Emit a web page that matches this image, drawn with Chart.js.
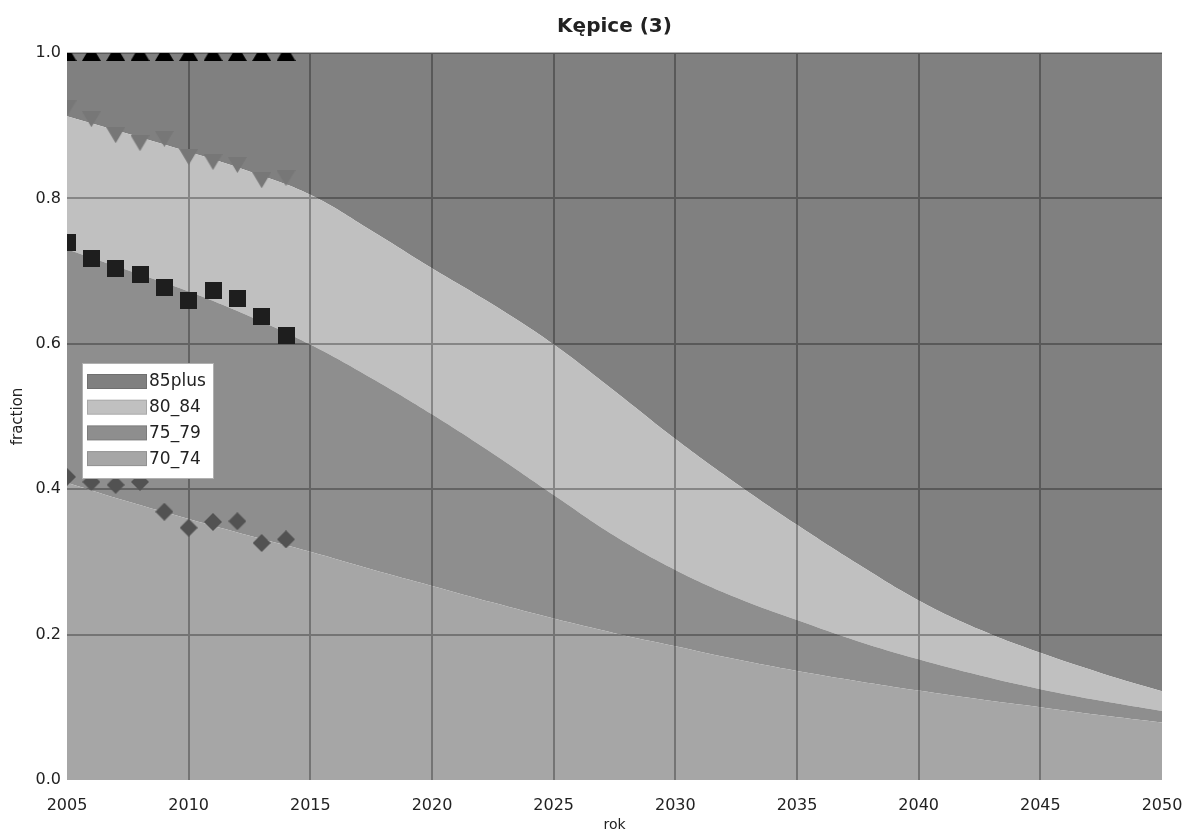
<!DOCTYPE html>
<html><head><meta charset="utf-8">
<script src="https://cdn.jsdelivr.net/npm/chart.js@4/dist/chart.umd.min.js"></script>
<style>html,body{margin:0;padding:0;background:#fff}canvas{display:block}</style>
</head><body>
<canvas id="c" width="1186" height="834"></canvas>
<script>
// ---- data ----
const years = [2005,2007.5,2010,2012.5,2015,2017.5,2020,2022.5,2025,2027.5,2030,2032.5,2035,2037.5,2040,2042.5,2045,2047.5,2050];
const share70_74  = [0.409,0.383,0.359,0.336,0.314,0.290,0.267,0.244,0.222,0.202,0.184,0.166,0.150,0.136,0.123,0.111,0.100,0.089,0.079];
const share75_79  = [0.321,0.318,0.313,0.302,0.285,0.263,0.236,0.205,0.170,0.134,0.105,0.085,0.070,0.055,0.043,0.033,0.025,0.020,0.016];
const share80_84  = [0.183,0.188,0.192,0.199,0.206,0.203,0.201,0.205,0.207,0.199,0.180,0.157,0.131,0.106,0.081,0.063,0.050,0.038,0.027];
const share85plus = [0.087,0.111,0.136,0.163,0.195,0.244,0.296,0.346,0.401,0.465,0.531,0.592,0.649,0.703,0.753,0.793,0.825,0.853,0.878];

const obsYears = [2005,2006,2007,2008,2009,2010,2011,2012,2013,2014];
const obsCum70_74  = [0.417,0.410,0.406,0.410,0.369,0.347,0.355,0.356,0.326,0.331];
const obsCum75_79  = [0.739,0.718,0.704,0.695,0.677,0.660,0.673,0.662,0.638,0.612];
const obsCum80_84  = [0.924,0.909,0.887,0.876,0.882,0.857,0.850,0.846,0.825,0.828];
const obsCum85plus = [1,1,1,1,1,1,1,1,1,1];

const xTickValues = [2005,2010,2015,2020,2025,2030,2035,2040,2045,2050];
const yTickValues = [0,0.2,0.4,0.6,0.8,1.0];

const FONT = 'DejaVu Sans';
const TXT = '#222222';

// ---- marker shapes ----
function marker(kind, color, w, h) {
  const c = document.createElement('canvas');
  c.width = w; c.height = h;
  const g = c.getContext('2d');
  g.fillStyle = color;
  g.beginPath();
  if (kind === 'up') { g.moveTo(w/2,0); g.lineTo(w,h); g.lineTo(0,h); }
  else if (kind === 'down') { g.moveTo(0,0); g.lineTo(w,0); g.lineTo(w/2,h); }
  else if (kind === 'diamond') { g.moveTo(w/2,0); g.lineTo(w,h/2); g.lineTo(w/2,h); g.lineTo(0,h/2); }
  else { g.rect(0,0,w,h); }
  g.closePath(); g.fill();
  return c;
}

const pts = (xs, ys) => xs.map((x,i) => ({x, y: ys[i]}));

function areaDs(label, vals, color, fill) {
  return { label, data: pts(years, vals), isArea: true, stack: 'area', order: 1,
    backgroundColor: color, borderColor: color, borderWidth: 0, pointRadius: 0,
    fill, tension: 0.4 };
}
function markerDs(label, vals, style, stackId) {
  return { label, data: pts(obsYears, vals), isArea: false, stack: stackId, order: 0,
    showLine: false, pointStyle: style, pointRadius: 9, pointHoverRadius: 9,
    backgroundColor: '#000', borderColor: '#000', borderWidth: 0, fill: false, clip: 0 };
}

const datasets = [
  areaDs('70_74', share70_74, '#a6a6a6', 'origin'),
  areaDs('75_79', share75_79, '#8e8e8e', '-1'),
  areaDs('80_84', share80_84, '#c0c0c0', '-1'),
  areaDs('85plus', share85plus, '#808080', '-1'),
  markerDs('obs 70_74', obsCum70_74, marker('diamond', '#525252', 18, 18), 'm1'),
  markerDs('obs 75_79', obsCum75_79, marker('square', '#1e1e1e', 17, 17), 'm2'),
  markerDs('obs 80_84', obsCum80_84, marker('down', '#777777', 19, 16), 'm3'),
  markerDs('obs 85plus', obsCum85plus, marker('up', '#000000', 19, 16), 'm4')
];

const gridOnTop = {
  id: 'gridOnTop',
  afterDatasetDraw(chart, args) {
    if (args.index !== 0) return;
    const {ctx, chartArea: a, scales: {x, y}} = chart;
    ctx.save();
    ctx.strokeStyle = 'rgba(0,0,0,0.3)';
    ctx.lineWidth = 2;
    ctx.beginPath();
    xTickValues.slice(1, -1).forEach(v => {
      const px = Math.round(x.getPixelForValue(v));
      ctx.moveTo(px, a.top); ctx.lineTo(px, a.bottom);
    });
    yTickValues.slice(1).forEach(v => {
      const py = Math.round(y.getPixelForValue(v));
      ctx.moveTo(a.left, py); ctx.lineTo(a.right, py);
    });
    ctx.stroke();
    ctx.restore();
  }
};

const boxLegend = {
  id: 'boxLegend',
  afterDraw(chart) {
    const ctx = chart.ctx;
    const items = chart.data.datasets.filter(d => d.isArea).slice().reverse();
    const bx = 82, by = 363, bw = 132, bh = 116;
    ctx.save();
    ctx.fillStyle = '#ffffff';
    ctx.fillRect(bx, by, bw, bh);
    ctx.strokeStyle = '#b0b0b0';
    ctx.lineWidth = 1;
    ctx.strokeRect(bx + 0.5, by + 0.5, bw - 1, bh - 1);
    ctx.font = '17px "' + FONT + '"';
    ctx.textBaseline = 'middle';
    ctx.textAlign = 'left';
    items.forEach((d, i) => {
      const cy = 381 + i * 25.7;
      ctx.fillStyle = d.backgroundColor;
      ctx.fillRect(87, cy - 7, 60, 15);
      ctx.strokeStyle = 'rgba(0,0,0,0.12)';
      ctx.strokeRect(87.5, cy - 6.5, 59, 14);
      ctx.fillStyle = TXT;
      ctx.fillText(d.label, 149, cy + 1);
    });
    ctx.restore();
  }
};

new Chart(document.getElementById('c'), {
  type: 'line',
  data: { datasets },
  plugins: [gridOnTop, boxLegend],
  options: {
    responsive: false,
    animation: false,
    events: [],
    layout: { padding: { left: 0, right: 24, top: 0, bottom: 0 } },
    plugins: {
      legend: { display: false },
      tooltip: { enabled: false },
      title: { display: true, text: 'Kępice (3)', fullSize: false, color: TXT,
        font: { family: FONT, size: 20, weight: 'bold' }, padding: { top: 15, bottom: 14 } }
    },
    scales: {
      x: {
        type: 'linear', min: 2005, max: 2050,
        afterBuildTicks: s => { s.ticks = xTickValues.map(v => ({ value: v })); },
        afterFit: s => { s.height = 54; s.paddingLeft = 0; s.paddingRight = 0; },
        grid: { display: false, drawTicks: false },
        border: { display: false },
        ticks: { color: TXT, font: { family: FONT, size: 16 }, padding: 16, maxRotation: 0, autoSkip: false,
          callback: v => String(v) },
        title: { display: true, text: 'rok', color: TXT, font: { family: FONT, size: 14 }, padding: { top: 0, bottom: 0 } }
      },
      y: {
        stacked: true, min: 0, max: 1,
        afterBuildTicks: s => { s.ticks = yTickValues.map(v => ({ value: v })); },
        afterFit: s => { s.width = 67; s.paddingTop = 0; s.paddingBottom = 0; },
        grid: { display: false, drawTicks: false },
        border: { display: false },
        ticks: { color: TXT, font: { family: FONT, size: 16 }, padding: 6, callback: v => Number(v).toFixed(1) },
        title: { display: true, text: 'fraction', color: TXT, font: { family: FONT, size: 15 }, padding: { top: 9, bottom: 0 } }
      }
    }
  }
});
</script>
</body></html>
